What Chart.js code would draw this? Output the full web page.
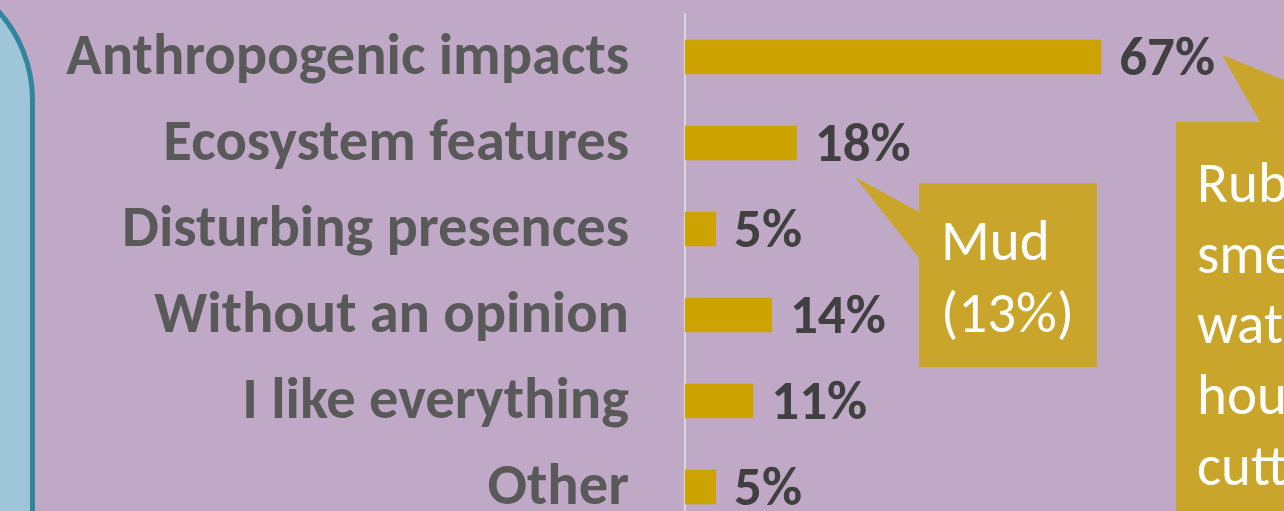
<!DOCTYPE html>
<html>
<head>
<meta charset="utf-8">
<script src="https://cdn.jsdelivr.net/npm/chart.js@4.4.0/dist/chart.umd.min.js"></script>
<style>
html, body { margin: 0; padding: 0; width: 1284px; height: 511px; overflow: hidden; background: #BFA9C7; }
#side { position: absolute; left: -200px; top: -35px; width: 225px; height: 700px; background: #9FC5D9; border: 5px solid #31859C; border-radius: 0 135px 0 0; }
#wrap { position: absolute; left: 0; top: 0; width: 1284px; height: 540px; }
</style>
</head>
<body>
<div id="side"></div>
<div id="wrap"><canvas id="chart" width="1284" height="540"></canvas></div>
<script>
var categories = ['Anthropogenic impacts', 'Ecosystem features', 'Disturbing presences', 'Without an opinion', 'I like everything', 'Other'];
var shares = [67, 18, 5, 14, 11, 5];
var mudNote = ['Mud', '(13%)'];
var bigNote = ['Rubbish,', 'smells,', 'water,', 'houses,', 'cutting'];

var FONT = 'Carlito, Lato, sans-serif';

var valueLabels = {
    id: 'valueLabels',
    afterDatasetsDraw: function (chart) {
        var ctx = chart.ctx;
        var meta = chart.getDatasetMeta(0);
        ctx.save();
        ctx.fillStyle = '#404040';
        ctx.font = 'bold 55px ' + FONT;
        ctx.textBaseline = 'alphabetic';
        ctx.textAlign = 'left';
        meta.data.forEach(function (bar, i) {
            ctx.fillText(shares[i] + '%', bar.x + 18, bar.y + 18);
        });
        ctx.restore();
    }
};

var callouts = {
    id: 'callouts',
    afterDraw: function (chart) {
        var ctx = chart.ctx;
        ctx.save();
        ctx.fillStyle = '#C9A62B';
        // mud
        ctx.beginPath();
        ctx.moveTo(855, 177);
        ctx.lineTo(919, 212);
        ctx.lineTo(919, 183);
        ctx.lineTo(1097, 183);
        ctx.lineTo(1097, 367);
        ctx.lineTo(919, 367);
        ctx.lineTo(919, 258);
        ctx.closePath();
        ctx.fill();
        // big one on the right
        ctx.beginPath();
        ctx.moveTo(1222, 55);
        ctx.lineTo(1388, 122);
        ctx.lineTo(1400, 122);
        ctx.lineTo(1400, 600);
        ctx.lineTo(1176, 600);
        ctx.lineTo(1176, 122);
        ctx.lineTo(1260, 122);
        ctx.closePath();
        ctx.fill();

        ctx.fillStyle = '#FFFFFF';
        ctx.font = '57px ' + FONT;
        ctx.textBaseline = 'alphabetic';
        mudNote.forEach(function (t, i) {
            ctx.fillText(t, 941, 260 + i * 72);
        });
        bigNote.forEach(function (t, i) {
            ctx.fillText(t, 1197, 202 + i * 70.7);
        });
        ctx.restore();
    }
};

var ctx = document.getElementById('chart').getContext('2d');
var myChart = new Chart(ctx, {
    type: 'bar',
    data: {
        labels: categories,
        datasets: [{
            data: shares,
            backgroundColor: '#CCA300',
            borderWidth: 0,
            categoryPercentage: 1,
            barPercentage: 0.4
        }]
    },
    options: {
        indexAxis: 'y',
        responsive: false,
        animation: false,
        layout: { padding: { top: 14, bottom: 10, right: 102, left: 0 } },
        plugins: { legend: { display: false }, tooltip: { enabled: false } },
        scales: {
            x: { display: false, min: 0, max: 80 },
            y: {
                afterFit: function (scale) {
                    scale.width = 685;
                    scale.paddingTop = 0;
                    scale.paddingBottom = 0;
                },
                grid: { display: false, drawTicks: false },
                border: { display: true, color: '#DADADA', width: 2 },
                ticks: {
                    color: '#595959',
                    padding: 56,
                    // blank first line nudges the label a few px down
                    callback: function (v) { return ['', this.getLabelForValue(v)]; },
                    font: { family: FONT, size: 58.5, weight: 'bold', lineHeight: '5px' }
                }
            }
        }
    },
    plugins: [valueLabels, callouts]
});
</script>
</body>
</html>
